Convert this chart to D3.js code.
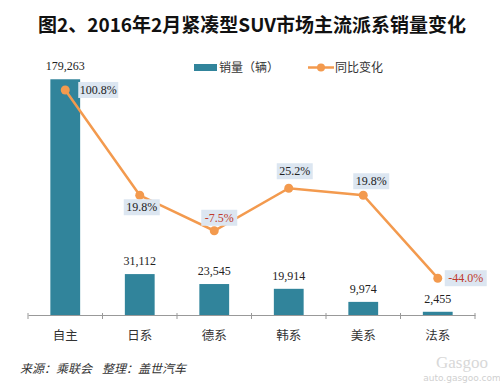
<!DOCTYPE html>
<html>
<head>
<meta charset="utf-8">
<script src="https://cdn.jsdelivr.net/npm/d3@7"></script>
<style>
  body { margin: 0; background: #fff; }
  svg { display: block; }
</style>
</head>
<body>
<div id="chart"></div>
<script>
// data
var categories = ["自主", "日系", "德系", "韩系", "美系", "法系"];
var sales = [179263, 31112, 23545, 19914, 9974, 2455];
var yoy = [100.8, 19.8, -7.5, 25.2, 19.8, -44.0];

var width = 500, height = 386;
var bar_color = "#31849b";
var line_color = "#f39a4e";
var box_fill = "#dce6f1";

var svg = d3.select("#chart").append("svg")
    .attr("width", width)
    .attr("height", height);

svg.append("rect").attr("width", width).attr("height", height).attr("fill", "#fff");

// title
svg.append("text")
    .attr("x", 252).attr("y", 32)
    .attr("text-anchor", "middle")
    .attr("font-family", "Noto Sans CJK SC")
    .attr("font-weight", "bold")
    .attr("font-size", 19)
    .attr("fill", "#111")
    .text("图2、2016年2月紧凑型SUV市场主流派系销量变化");

var x = d3.scaleBand().domain(categories).range([28, 475]).paddingInner(0.6).paddingOuter(0.3);
var xOuter = d3.scaleBand().domain(categories).range([28, 475]);
var y = d3.scaleLinear().domain([0, 200000]).range([315, 52]);
var y2 = d3.scaleLinear().domain([-60, 120]).range([299, 65]);

// bars
svg.selectAll("rect.bar")
    .data(sales)
    .enter()
    .append("rect")
    .attr("class", "bar")
    .attr("x", function(d, i){ return x(categories[i]); })
    .attr("width", x.bandwidth())
    .attr("y", function(d){ return y(d); })
    .attr("height", function(d){ return y(0) - y(d); })
    .attr("fill", bar_color);

// bar values
svg.selectAll("text.val")
    .data(sales)
    .enter()
    .append("text")
    .attr("class", "val")
    .attr("x", function(d, i){ return x(categories[i]) + x.bandwidth()/2; })
    .attr("y", function(d){ return y(d) - 9; })
    .attr("text-anchor", "middle")
    .attr("font-family", "Liberation Serif")
    .attr("font-size", 12)
    .attr("fill", "#222")
    .text(function(d){ return d3.format(",")(d); });

// x axis
var axis = d3.axisBottom(xOuter).tickSize(0).tickFormat("");
var gx = svg.append("g").attr("transform", "translate(0," + y(0) + ")").call(axis);
gx.select(".domain").attr("stroke", "#999");
svg.selectAll("line.tick2")
    .data(d3.range(categories.length + 1))
    .enter()
    .append("line")
    .attr("x1", function(i){ return 28 + i * xOuter.step(); })
    .attr("x2", function(i){ return 28 + i * xOuter.step(); })
    .attr("y1", y(0) - 2).attr("y2", y(0) + 4)
    .attr("stroke", "#999");

svg.selectAll("text.cat")
    .data(categories)
    .enter()
    .append("text")
    .attr("class", "cat")
    .attr("x", function(d){ return xOuter(d) + xOuter.bandwidth()/2; })
    .attr("y", 340)
    .attr("text-anchor", "middle")
    .attr("font-family", "Noto Sans CJK SC")
    .attr("font-size", 12.5)
    .attr("fill", "#333")
    .text(function(d){ return d; });

// line
var cx = function(d, i){ return xOuter(categories[i]) + xOuter.bandwidth()/2; };
var line = d3.line()
    .x(function(d, i){ return cx(d, i); })
    .y(function(d){ return y2(d); });
svg.append("path")
    .datum(yoy)
    .attr("d", line)
    .attr("fill", "none")
    .attr("stroke", line_color)
    .attr("stroke-width", 2.5);
svg.selectAll("circle.pt")
    .data(yoy)
    .enter()
    .append("circle")
    .attr("class", "pt")
    .attr("cx", cx)
    .attr("cy", function(d){ return y2(d); })
    .attr("r", 4.5)
    .attr("fill", line_color);

// label offsets relative to the point: dx, dy of box center
var label_pos = [[33, 0], [2, 12], [5, -13], [6, -17], [8, -14], [28, 0]];
var lab = svg.selectAll("g.lab")
    .data(yoy)
    .enter()
    .append("g")
    .attr("class", "lab")
    .attr("transform", function(d, i){
        return "translate(" + (cx(d, i) + label_pos[i][0]) + "," + (y2(d) + label_pos[i][1]) + ")";
    });
lab.append("rect")
    .attr("x", function(d){ return d < -10 ? -21 : (Math.abs(d) >= 100 ? -20 : -18); })
    .attr("width", function(d){ return d < -10 ? 42 : (Math.abs(d) >= 100 ? 40 : 36); })
    .attr("y", -8).attr("height", 16)
    .attr("fill", box_fill);
lab.append("text")
    .attr("text-anchor", "middle")
    .attr("dy", "0.35em")
    .attr("font-family", "Liberation Serif")
    .attr("font-size", 12)
    .attr("fill", function(d){ return d < 0 ? "#c0392b" : "#222"; })
    .text(function(d){ return d.toFixed(1) + "%"; });

// legend
var leg = svg.append("g");
leg.append("rect").attr("x", 194).attr("y", 64).attr("width", 23).attr("height", 7).attr("fill", bar_color);
leg.append("text").attr("x", 219).attr("y", 72)
    .attr("font-family", "Noto Sans CJK SC").attr("font-size", 12).attr("fill", "#333")
    .text("销量（辆）");
leg.append("line").attr("x1", 308).attr("x2", 334).attr("y1", 67.5).attr("y2", 67.5)
    .attr("stroke", line_color).attr("stroke-width", 2.5);
leg.append("circle").attr("cx", 321).attr("cy", 67.5).attr("r", 4).attr("fill", line_color);
leg.append("text").attr("x", 335).attr("y", 72)
    .attr("font-family", "Noto Sans CJK SC").attr("font-size", 12).attr("fill", "#333")
    .text("同比变化");

// footer
var foot = svg.append("g")
    .attr("font-family", "Noto Sans CJK SC")
    .attr("font-style", "italic")
    .attr("font-size", 12)
    .attr("fill", "#333");
foot.append("text").attr("x", 20).attr("y", 373).text("来源：乘联会");
foot.append("text").attr("x", 102).attr("y", 373).text("整理：盖世汽车");

// watermark
svg.append("text")
    .attr("x", 462).attr("y", 368)
    .attr("text-anchor", "middle")
    .attr("font-family", "Liberation Serif")
    .attr("font-size", 17)
    .attr("fill", "#d8d8d8")
    .text("Gasgoo");
svg.append("text")
    .attr("x", 462).attr("y", 381)
    .attr("text-anchor", "middle")
    .attr("font-family", "DejaVu Sans")
    .attr("font-size", 9)
    .attr("fill", "#d0d0d0")
    .text("auto.gasgoo.com");
</script>
</body>
</html>
